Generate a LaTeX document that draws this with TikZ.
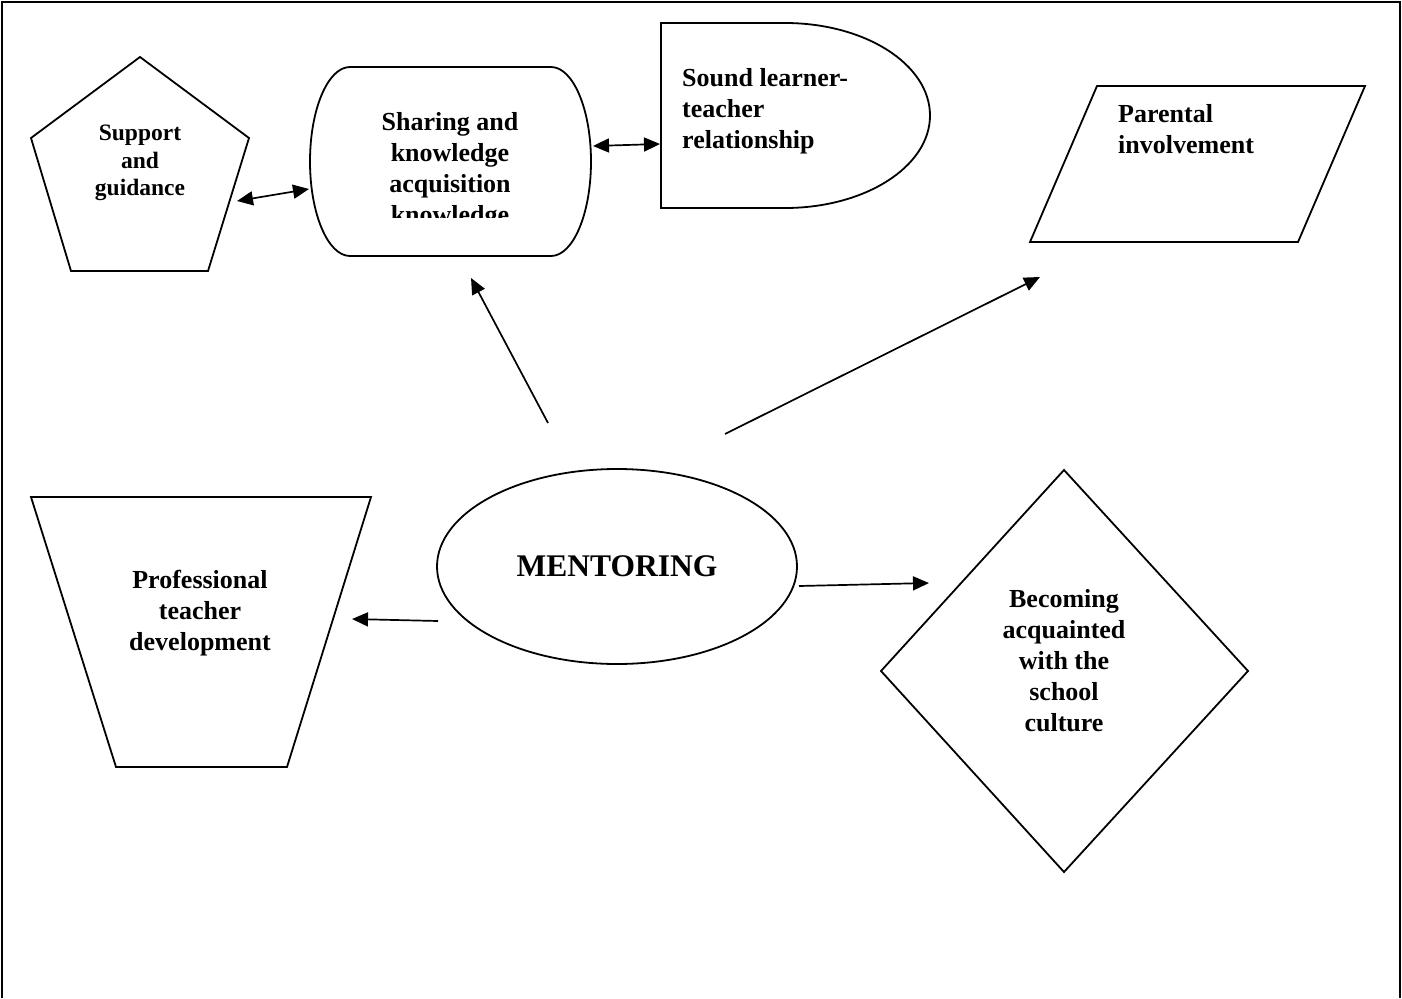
\documentclass[tikz,border=0pt]{standalone}
\usepackage{fontspec}
\setmainfont{Liberation Serif}
\usetikzlibrary{arrows.meta,positioning,calc}

\begin{document}
\begin{tikzpicture}[x=1pt,y=-1pt,>={Triangle[length=16pt,width=14pt]},
shp/.style={draw,line width=1.8pt,line join=miter},
txt/.style={inner sep=0pt,align=center,font=\fontsize{26}{31}\selectfont\bfseries},
arr/.style={->,line width=1.7pt},
dbl/.style={<->,line width=1.7pt}]
\useasboundingbox (0,0) rectangle (1402,998);
% frame, open at the foot
\draw[line width=2.4pt] (2,998) -- (2,2) -- (1400,2) -- (1400,998);

% shapes
\draw[shp] (140,57) -- (249,138) -- (208,271) -- (71,271) -- (31,138) -- cycle;
\draw[shp] (350,67) -- (551,67) arc[start angle=-90,end angle=90,x radius=40,y radius=94.5]
  -- (350,256) arc[start angle=90,end angle=270,x radius=40,y radius=94.5] -- cycle;
\draw[shp] (661,23) -- (785,23) arc[start angle=-90,end angle=90,x radius=145,y radius=92.5]
  -- (661,208) -- cycle;
\draw[shp] (1097,86) -- (1365,86) -- (1298,242) -- (1030,242) -- cycle;
\draw[shp] (31,497) -- (371,497) -- (287,767) -- (116,767) -- cycle;
\draw[shp] (617,566.5) ellipse[x radius=180,y radius=97.5];
\draw[shp] (1064,470) -- (1248,671) -- (1064,872) -- (881,671) -- cycle;

% texts
\node[txt,font=\fontsize{23.5}{27.5}\selectfont\bfseries] (support) at (140,163) {Support\\and\\guidance};
\begin{scope}
\clip (300,60) rectangle (600,217);
\node[txt] (share) at (450,171) {Sharing and\\knowledge\\acquisition\\knowledge};
\end{scope}
\node[txt,align=left,anchor=west] (sound) at (682,111) {Sound learner-\\teacher\\relationship};
\node[txt,align=left,anchor=west] (parent) at (1118,129) {Parental\\involvement};
\node[txt] (prof) at (200,613) {Professional\\teacher\\development};
\node[txt,font=\fontsize{31.5}{36}\selectfont\bfseries] (mentor) at (617,566) {MENTORING};
\node[txt] (becoming) at (1064,661) {Becoming\\acquainted\\with the\\school\\culture};

% connector ends
\coordinate (support-e) at (237,201);
\coordinate (share-w) at (309,189);
\coordinate (share-e) at (593,146);
\coordinate (sound-w) at (660,144);
\coordinate (share-s) at (471,278);
\coordinate (parent-sw) at (1040,277);
\coordinate (becoming-w) at (929,583);
\coordinate (prof-e) at (352,619);
\coordinate (mentor-n) at (548,423);
\coordinate (mentor-ne) at (725,434);
\coordinate (mentor-e) at (799,586);
\coordinate (mentor-w) at (438,621);

% connectors
\draw[dbl] (support-e) -- (share-w);
\draw[dbl] (share-e) -- (sound-w);
\draw[arr] (mentor-n) -- (share-s);
\draw[arr] (mentor-ne) -- (parent-sw);
\draw[arr] (mentor-e) -- (becoming-w);
\draw[arr] (mentor-w) -- (prof-e);
\end{tikzpicture}
\end{document}
